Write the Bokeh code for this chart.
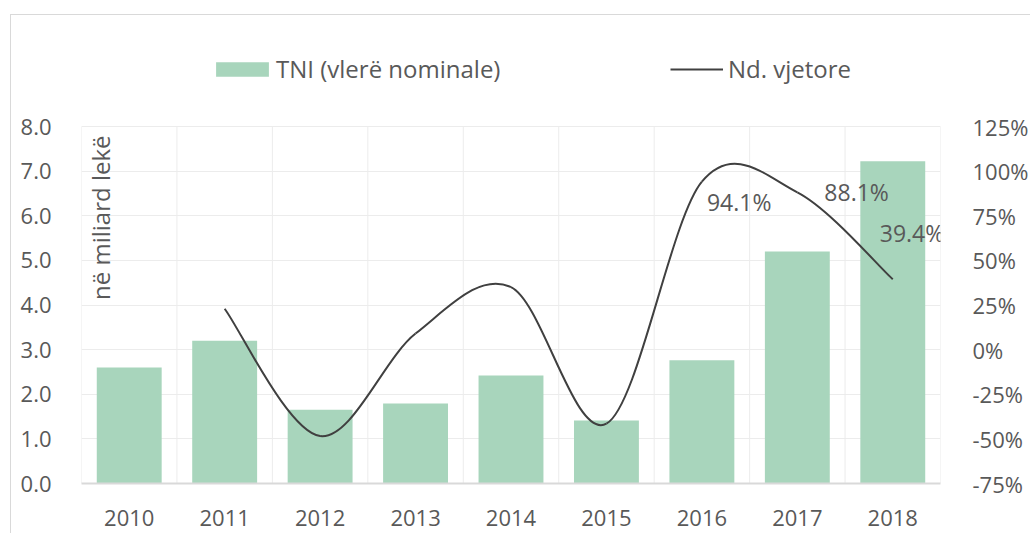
import numpy as np
from bokeh.plotting import figure
from bokeh.models import (Range1d, LinearAxis, FixedTicker, NumeralTickFormatter,
                          Legend, LegendItem)
from bokeh.core.properties import value
from bokeh.embed import file_html
from bokeh.resources import INLINE

# ---------------- data ----------------
years = ["2010", "2011", "2012", "2013", "2014", "2015", "2016", "2017", "2018"]
tni = [2.60, 3.20, 1.65, 1.79, 2.42, 1.41, 2.76, 5.20, 7.22]          # miliard lekë
growth_years = ["2011", "2012", "2013", "2014", "2015", "2016", "2017", "2018"]
growth = [22.9, -48.4, 9.0, 35.0, -41.5, 94.1, 88.1, 39.4]             # %
label_years = ["2016", "2017", "2018"]
label_texts = ["94.1%", "88.1%", "39.4%"]
left_ticks = [0, 1, 2, 3, 4, 5, 6, 7, 8]
right_ticks = [-75, -50, -25, 0, 25, 50, 75, 100, 125]

# ---------------- styles / layout ----------------
FONT = "Open Sans"
TXT = "#595959"
BAR = "#A8D5BC"
LINE = "#404040"
GRID = "#ececec"
label_dx = [5, 27, -13]
label_dy = [20, 0, -46]

W, H = 1020, 519
ORIGIN_Y = 15            # canvas top in the page
FRAME_TOP = 40           # frame extended upward to hold the legend
AXIS_TOP = 126           # where the top tick (8.0 / 125%) sits
FRAME_BOTTOM = 483
ext = (FRAME_BOTTOM - FRAME_TOP) / (FRAME_BOTTOM - AXIS_TOP)

xi = {y: i for i, y in enumerate(years)}
bar_x = [xi[y] for y in years]

lo, hi = left_ticks[0], left_ticks[-1]
rlo, rhi = right_ticks[0], right_ticks[-1]

p = figure(width=W, height=H, title=None,
           x_range=Range1d(-0.5, len(years) - 0.5),
           y_range=Range1d(lo, lo + (hi - lo) * ext),
           output_backend="svg", toolbar_location=None,
           min_border_left=70, min_border_right=85,
           min_border_top=FRAME_TOP - ORIGIN_Y,
           min_border_bottom=ORIGIN_Y + H - FRAME_BOTTOM)
p.styles = {"margin-left": "10px", "margin-top": "14px",
            "border-left": "1px solid #d9d9d9", "border-top": "1px solid #d9d9d9"}
p.outline_line_color = None
p.background_fill_color = "white"
p.border_fill_color = "white"
p.extra_y_ranges = {"pct": Range1d(rlo, rlo + (rhi - rlo) * ext)}

# grids: horizontal via grid, vertical (category boundaries) as segments up to the top tick
p.xgrid.visible = False
p.ygrid.ticker = FixedTicker(ticks=left_ticks)
p.ygrid.grid_line_color = GRID
p.ygrid.grid_line_width = 1
bounds = [i - 0.5 for i in range(len(years) + 1)]
p.segment(x0=bounds, y0=[lo] * len(bounds), x1=bounds, y1=[hi] * len(bounds),
          line_color=GRID, line_width=1)

# x axis
xa = p.xaxis[0]
xa.ticker = FixedTicker(ticks=bar_x)
xa.major_label_overrides = {i: y for i, y in enumerate(years)}
xa.axis_line_color = "#d9d9d9"
xa.axis_line_width = 2
xa.major_tick_line_color = None
xa.minor_tick_line_color = None
xa.major_label_standoff = 20

# left axis
ya = p.yaxis[0]
ya.ticker = FixedTicker(ticks=left_ticks)
ya.formatter = NumeralTickFormatter(format="0.0")
ya.axis_line_color = None
ya.major_tick_line_color = None
ya.minor_tick_line_color = None
ya.major_label_standoff = 24

# right axis
ra = LinearAxis(y_range_name="pct", ticker=FixedTicker(ticks=right_ticks))
ra.major_label_overrides = {v: f"{v}%" for v in right_ticks}
ra.axis_line_color = None
ra.major_tick_line_color = None
ra.minor_tick_line_color = None
ra.major_label_standoff = 26
p.add_layout(ra, "right")

for ax in (xa, ya, ra):
    ax.major_label_text_font = FONT
    ax.major_label_text_font_size = "22px"
    ax.major_label_text_color = TXT

# bars
bars = p.vbar(x=bar_x, top=tni, width=0.68, fill_color=BAR, line_color=None)

# smoothed line (Catmull-Rom style Bezier segments, like Excel's smoothed line)
gx = np.array([xi[y] for y in growth_years], dtype=float)
gy = np.array(growth, dtype=float)
n = len(gx)
x0, y0, x1, y1, cx0, cy0, cx1, cy1 = ([] for _ in range(8))
for i in range(n - 1):
    a = i - 1 if i > 0 else i
    d = i + 2 if i + 2 < n else i + 1
    x0.append(gx[i]); y0.append(gy[i]); x1.append(gx[i + 1]); y1.append(gy[i + 1])
    cx0.append(gx[i] + (gx[i + 1] - gx[a]) / 6); cy0.append(gy[i] + (gy[i + 1] - gy[a]) / 6)
    cx1.append(gx[i + 1] - (gx[d] - gx[i]) / 6); cy1.append(gy[i + 1] - (gy[d] - gy[i]) / 6)
curve = p.bezier(x0=x0, y0=y0, x1=x1, y1=y1, cx0=cx0, cy0=cy0, cx1=cx1, cy1=cy1,
                 line_color=LINE, line_width=2, y_range_name="pct")

# data labels
gmap = dict(zip(growth_years, growth))
p.text(x=[xi[y] for y in label_years], y=[gmap[y] for y in label_years], text=label_texts,
       x_offset=label_dx, y_offset=label_dy, text_align="left", text_baseline="middle",
       text_font=value(FONT), text_font_size="23px", text_color=TXT, y_range_name="pct")

# axis title inside the plot
p.text(x=[-0.5], y=[hi], text=["në miliard lekë"], angle=np.pi / 2,
       x_offset=19, y_offset=9, text_align="right", text_baseline="alphabetic",
       text_font=value(FONT), text_font_size="24px", text_color=TXT)

# legends (inside the extended frame, above the top tick)
common = dict(border_line_color=None, background_fill_alpha=0, padding=0, margin=0,
              label_height=30, label_text_font=FONT, label_text_font_size="24px",
              label_text_color=TXT)
leg1 = Legend(items=[LegendItem(label="TNI (vlerë nominale)", renderers=[bars])],
              location=(128, FRAME_BOTTOM - 85), glyph_width=66, glyph_height=18,
              label_standoff=1, **common)
leg2 = Legend(items=[LegendItem(label="Nd. vjetore", renderers=[curve])],
              location=(589, FRAME_BOTTOM - 85), glyph_width=53, glyph_height=18,
              label_standoff=5, **common)
p.add_layout(leg1)
p.add_layout(leg2)

open("out.html", "w").write(file_html(p, INLINE))
